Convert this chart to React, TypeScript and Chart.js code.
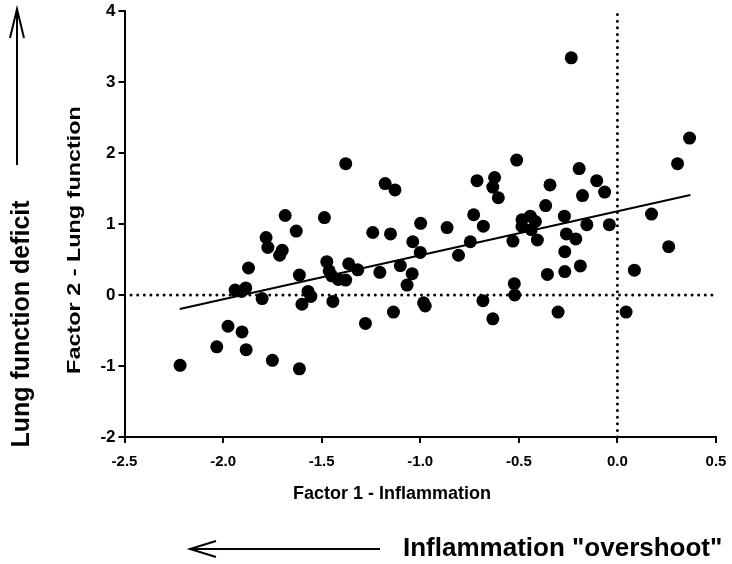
import React, { useEffect, useRef } from "react";
import { Chart, registerables } from "chart.js";

Chart.register(...registerables);

// Factor 1 - Inflammation (x) and Factor 2 - Lung function (y)
const factor1 = [
  -2.218, -2.032, -1.975, -1.904, -1.883, -1.939, -1.906, -1.885, -1.871, -1.802,
  -1.782, -1.773, -1.713, -1.7, -1.75, -1.685, -1.629, -1.613, -1.6, -1.613,
  -1.569, -1.555, -1.486, -1.474, -1.462, -1.449, -1.443, -1.416, -1.378, -1.378,
  -1.363, -1.317, -1.278, -1.241, -1.205, -1.178, -1.128, -1.151, -1.136, -1.101,
  -1.067, -1.038, -1.041, -0.998, -1.0, -0.983, -0.975, -0.864, -0.806, -0.746,
  -0.729, -0.712, -0.68, -0.682, -0.632, -0.623, -0.632, -0.604, -0.53, -0.511,
  -0.523, -0.521, -0.484, -0.442, -0.416, -0.484, -0.437, -0.406, -0.364, -0.355,
  -0.342, -0.301, -0.269, -0.259, -0.267, -0.267, -0.234, -0.211, -0.194, -0.177,
  -0.188, -0.155, -0.105, -0.065, -0.041, 0.044, 0.086, 0.173, 0.26, 0.305, 0.366,
];
const factor2 = [
  -0.99, -0.73, -0.44, -0.52, -0.77, 0.07, 0.05, 0.1, 0.38, -0.05,
  0.81, 0.67, 0.56, 0.63, -0.92, 1.12, 0.9, 0.28, -0.13, -1.04,
  0.05, -0.02, 1.09, 0.47, 0.34, 0.27, -0.09, 0.22, 0.21, 1.85,
  0.44, 0.355, -0.4, 0.88, 0.32, 1.57, 1.48, 0.86, -0.24, 0.415,
  0.14, 0.75, 0.3, 1.01, 0.6, -0.11, -0.155, 0.95, 0.56, 0.75,
  1.13, 1.61, 0.97, -0.08, -0.335, 1.655, 1.52, 1.37, 0.76, 1.9,
  0.16, 0.0, 1.06, 1.11, 1.035, 0.965, 0.92, 0.775, 1.26, 0.29,
  1.55, -0.24, 1.11, 0.86, 0.61, 0.33, 3.34, 0.79, 1.78, 1.4,
  0.41, 0.99, 1.61, 1.45, 0.99, -0.24, 0.35, 1.14, 0.68, 1.85, 2.21,
];

// Regression line end points
const fitX = [-2.22, 0.37];
const fitY = [-0.196, 1.409];

// Reference (dotted) lines
const zeroLineX = [-2.5, 0.5];
const zeroLineY = [-2, 4];

const xTickStep = 0.5;
const yTickStep = 1;

const xTitle = "Factor 1 - Inflammation";
const yTitle = "Factor 2 - Lung function";
const sideLabel = "Lung function deficit";
const bottomLabel = 'Inflammation "overshoot"';

const FONT = '"Liberation Sans", Arial, sans-serif';

const annotations = {
  id: "annotations",
  afterDraw(chart: any) {
    const ctx = chart.ctx as CanvasRenderingContext2D;
    ctx.save();
    ctx.fillStyle = "#000";
    ctx.strokeStyle = "#000";
    ctx.textAlign = "center";
    ctx.textBaseline = "middle";

    ctx.font = `bold 18px ${FONT}`;
    ctx.fillText(xTitle, 392, 494);

    ctx.save();
    ctx.translate(75, 240);
    ctx.rotate(-Math.PI / 2);
    ctx.scale(1.3, 1);
    ctx.fillText(yTitle, 0, 0);
    ctx.restore();

    ctx.font = `bold 25px ${FONT}`;
    ctx.save();
    ctx.translate(22, 324);
    ctx.rotate(-Math.PI / 2);
    ctx.fillText(sideLabel, 0, 0);
    ctx.restore();

    ctx.font = `bold 26px ${FONT}`;
    ctx.textAlign = "left";
    ctx.fillText(bottomLabel, 403, 549);

    ctx.lineWidth = 2;
    ctx.lineCap = "butt";
    // vertical arrow
    ctx.beginPath();
    ctx.moveTo(17, 165);
    ctx.lineTo(17, 9);
    ctx.stroke();
    ctx.beginPath();
    ctx.moveTo(10, 38);
    ctx.lineTo(17, 9);
    ctx.lineTo(24, 38);
    ctx.stroke();
    // horizontal arrow
    ctx.beginPath();
    ctx.moveTo(380, 549);
    ctx.lineTo(190, 549);
    ctx.stroke();
    ctx.beginPath();
    ctx.moveTo(216, 541);
    ctx.lineTo(190, 549);
    ctx.lineTo(216, 557);
    ctx.stroke();

    ctx.restore();
  },
};

export default function App() {
  const canvasRef = useRef<HTMLCanvasElement | null>(null);

  useEffect(() => {
    if (!canvasRef.current) return;
    const points = factor1.map((x, i) => ({ x, y: factor2[i] }));
    const fit = fitX.map((x, i) => ({ x, y: fitY[i] }));
    const hLine = zeroLineX.map((x) => ({ x, y: 0 }));
    const vLine = zeroLineY.map((y) => ({ x: 0, y }));

    const chart = new Chart(canvasRef.current, {
      type: "scatter",
      data: {
        datasets: [
          {
            label: "h",
            type: "line",
            data: hLine,
            borderColor: "#000",
            borderWidth: 3,
            borderDash: [0, 6.6],
            borderCapStyle: "round",
            pointRadius: 0,
            clip: false,
            order: 3,
          } as any,
          {
            label: "v",
            type: "line",
            data: vLine,
            borderColor: "#000",
            borderWidth: 3,
            borderDash: [0, 6.6],
            borderCapStyle: "round",
            pointRadius: 0,
            clip: false,
            order: 3,
          } as any,
          {
            label: "fit",
            type: "line",
            data: fit,
            borderColor: "#000",
            borderWidth: 2,
            pointRadius: 0,
            order: 2,
          } as any,
          {
            label: "subjects",
            data: points,
            backgroundColor: "#000",
            borderColor: "#000",
            borderWidth: 0,
            pointRadius: 6.5,
            order: 1,
          },
        ],
      },
      options: {
        responsive: false,
        animation: false,
        events: [],
        layout: { padding: { left: 0, top: 11, right: 16, bottom: 0 } },
        plugins: { legend: { display: false }, tooltip: { enabled: false } },
        scales: {
          x: {
            type: "linear",
            min: -2.5,
            max: 0.5,
            afterFit: (s: any) => {
              s.height = 127;
              s.paddingRight = 0;
              s.paddingLeft = 0;
            },
            ticks: {
              stepSize: xTickStep,
              callback: (v: any) => Number(v).toFixed(1),
              font: { family: FONT, size: 15, weight: "bold" },
              color: "#000",
              padding: 10,
              maxRotation: 0,
              autoSkip: false,
            },
            grid: {
              display: true,
              drawOnChartArea: false,
              drawTicks: true,
              tickLength: 6,
              color: "#000",
              lineWidth: 2,
            },
            border: { display: true, color: "#000", width: 2 },
          },
          y: {
            type: "linear",
            min: -2,
            max: 4,
            afterFit: (s: any) => {
              s.width = 124.5;
              s.paddingTop = 0;
              s.paddingBottom = 0;
            },
            ticks: {
              stepSize: yTickStep,
              callback: (v: any) => String(v),
              font: { family: FONT, size: 17, weight: "bold" },
              color: "#000",
              padding: 3,
              autoSkip: false,
            },
            grid: {
              display: true,
              drawOnChartArea: false,
              drawTicks: true,
              tickLength: 6,
              color: "#000",
              lineWidth: 2,
            },
            border: { display: true, color: "#000", width: 2 },
          },
        },
      },
      plugins: [annotations],
    });
    return () => chart.destroy();
  }, []);

  return (
    <div style={{ position: "fixed", left: 0, top: 0, width: 732, height: 564, background: "#fff" }}>
      <canvas ref={canvasRef} width={732} height={564} />
    </div>
  );
}
